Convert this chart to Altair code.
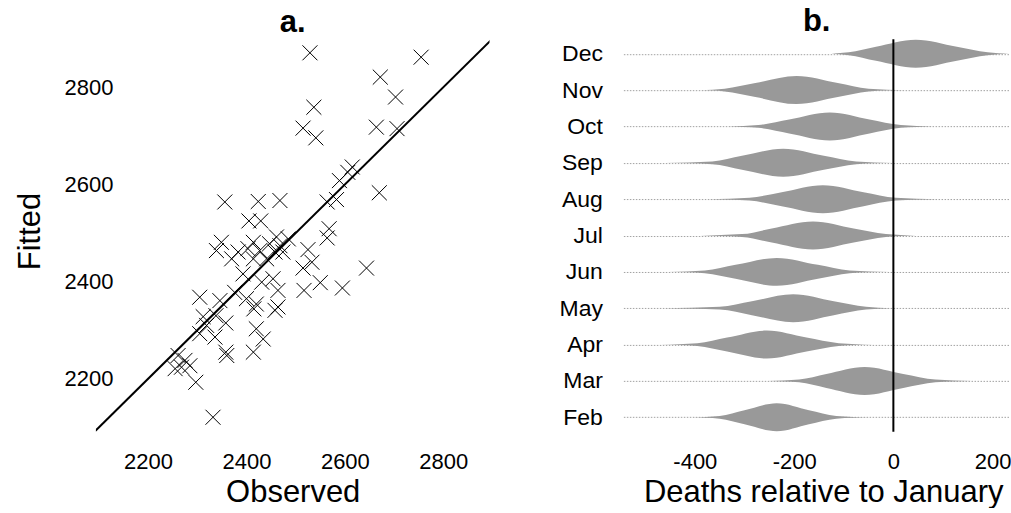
import altair as alt
import pandas as pd

# ---------------- panel a: observed vs fitted ----------------
observed = [2529, 2755, 2672, 2703, 2537, 2515, 2541, 2664, 2706, 2615,
            2606, 2589, 2583, 2564, 2670, 2468, 2424, 2356, 2405, 2429,
            2568, 2564, 2525, 2533, 2515, 2644, 2550, 2517, 2595, 2349,
            2339, 2383, 2370, 2403, 2414, 2427, 2414, 2447, 2461, 2468,
            2458, 2474, 2441, 2485, 2393, 2454, 2431, 2305, 2346, 2376,
            2400, 2420, 2464, 2464, 2415, 2312, 2338, 2358, 2458, 2420,
            2434, 2305, 2336, 2358, 2360, 2414, 2261, 2275, 2285, 2255,
            2268, 2297, 2332, 2319]
fitted = [2871, 2862, 2821, 2780, 2759, 2716, 2696, 2718, 2715, 2636,
          2625, 2608, 2569, 2564, 2583, 2567, 2565, 2564, 2525, 2525,
          2509, 2490, 2466, 2440, 2428, 2428, 2398, 2382, 2387, 2481,
          2464, 2461, 2447, 2468, 2481, 2464, 2447, 2478, 2492, 2474,
          2461, 2461, 2447, 2488, 2416, 2406, 2399, 2368, 2361, 2378,
          2365, 2354, 2382, 2348, 2344, 2328, 2330, 2315, 2341, 2303,
          2282, 2293, 2286, 2255, 2248, 2255, 2248, 2238, 2227, 2221,
          2224, 2193, 2121, 2310]
identity_line = [2085, 2905]
a_ticks = [2200, 2400, 2600, 2800]

# ---------------- panel b: month violins ----------------
months = ["Feb", "Mar", "Apr", "May", "Jun", "Jul", "Aug", "Sep", "Oct", "Nov", "Dec"]
v_lo  = [-406, -252, -469, -463, -453, -389, -372, -459, -332, -389, -125]
v_l10 = [-350, -190, -395, -350, -380, -305, -290, -365, -272, -340, -90]
v_lh  = [-300, -135, -335, -285, -318, -245, -225, -305, -210, -278, -35]
v_pk  = [-235, -58, -255, -202, -235, -162, -142, -222, -128, -195, 45]
v_rh  = [-170, 20, -175, -120, -152, -80, -60, -140, -48, -112, 128]
v_r10 = [-115, 85, -110, -55, -88, -15, 5, -75, 15, -50, 190]
v_hi  = [-48, 159, -41, -5, -8, 45, 89, -1, 79, 25, 233]
levels = [0, 0.1, 0.5, 1, 0.5, 0.1, 0]
b_ticks = [-400, -200, 0, 200]

FONT = "Liberation Sans"
TITLE_SIZE = 31

sc = pd.DataFrame({"obs": observed, "fit": fitted})
ln = pd.DataFrame({"obs": identity_line, "fit": identity_line})

xs_a = alt.Scale(domain=[2094, 2894], nice=False, zero=False)
ys_a = alt.Scale(domain=[2091, 2899], nice=False, zero=False)
ax_a_x = alt.Axis(values=a_ticks, labelExpr="'' + datum.value", domain=False, ticks=False,
                  tickSize=0, grid=False, labelPadding=20, labelFontSize=22,
                  title="Observed", titleFontSize=TITLE_SIZE, titleFontWeight="normal",
                  titleBaseline="alphabetic", titleY=70, titleX=197, titleAlign="center")
ax_a_y = alt.Axis(values=a_ticks, labelExpr="'' + datum.value", domain=False, ticks=False,
                  tickSize=0, grid=False, labelPadding=-17, labelFontSize=22,
                  title="Fitted", titleFontSize=TITLE_SIZE, titleFontWeight="normal",
                  titleAngle=270, titleBaseline="alphabetic", titleX=-56, titleY=192,
                  titleAlign="center")

pts = alt.Chart(sc).mark_point(
    shape="M-1,-1L1,1M-1,1L1,-1", filled=False, stroke="black", strokeWidth=1,
    size=225, opacity=1
).encode(
    x=alt.X("obs:Q", scale=xs_a, axis=ax_a_x),
    y=alt.Y("fit:Q", scale=ys_a, axis=ax_a_y),
)
line = alt.Chart(ln).mark_line(color="black", strokeWidth=2, clip=True).encode(
    x=alt.X("obs:Q", scale=xs_a, axis=ax_a_x),
    y=alt.Y("fit:Q", scale=ys_a, axis=ax_a_y),
)
left = alt.layer(line, pts).properties(
    width=394, height=393,
    title=alt.TitleParams("a.", fontSize=31, fontWeight="bold", font=FONT,
                          anchor="middle", frame="group", baseline="alphabetic", offset=-24),
)

rows = []
for i, m in enumerate(months):
    xs = [v_lo[i], v_l10[i], v_lh[i], v_pk[i], v_rh[i], v_r10[i], v_hi[i]]
    for x, lv in zip(xs, levels):
        rows.append({"month": m, "idx": i + 1, "v": x, "level": lv})
vd = pd.DataFrame(rows)

xs_b = alt.Scale(domain=[-544, 235], nice=False, zero=False)
ys_b = alt.Scale(domain=[0.6, 11.4], nice=False, zero=False)
month_arr = "[" + ",".join("'%s'" % m for m in months) + "]"
ax_b_x = alt.Axis(values=b_ticks, labelExpr="'' + datum.value", domain=False, ticks=False,
                  tickSize=0, grid=False, labelPadding=20, labelFontSize=22,
                  title="Deaths relative to January", titleFontSize=TITLE_SIZE,
                  titleFontWeight="normal", titleBaseline="alphabetic",
                  titleY=70, titleX=200, titleAlign="center")
ax_b_y = alt.Axis(values=list(range(1, 12)), domain=False, ticks=False, tickSize=0,
                  grid=True, gridDash=[1.5, 1.5], gridColor="#8a8a8a", gridWidth=0.8,
                  labelPadding=21, labelFontSize=23, title=None,
                  labelExpr=month_arr + "[datum.value - 1]")

HALF = 0.385
viol = alt.Chart(vd).transform_calculate(
    ytop="datum.idx + datum.level * %f" % HALF,
    ybot="datum.idx - datum.level * %f" % HALF,
).mark_area(color="#999999", interpolate="monotone", opacity=1).encode(
    x=alt.X("v:Q", scale=xs_b, axis=ax_b_x),
    y=alt.Y("ytop:Q", scale=ys_b, axis=ax_b_y),
    y2="ybot:Q",
    detail="month:N",
)
zero_rule = alt.Chart(pd.DataFrame({"v": [0]})).mark_rule(color="black", strokeWidth=2).encode(
    x=alt.X("v:Q", scale=xs_b, axis=ax_b_x),
)
right = alt.layer(viol, zero_rule).properties(
    width=387, height=393,
    title=alt.TitleParams("b.", fontSize=31, fontWeight="bold", font=FONT,
                          anchor="middle", frame="group", baseline="alphabetic", offset=-24),
)

chart = alt.hconcat(left, right, spacing=134, bounds="flush").properties(
    padding={"left": 15, "top": 6, "right": 0, "bottom": 0},
    background="white",
).configure_view(stroke=None).configure_axis(
    labelFont=FONT, titleFont=FONT, labelColor="black", titleColor="black"
).configure_title(color="black")

chart.save("out.html", embed_options={"renderer": "svg", "actions": False})
